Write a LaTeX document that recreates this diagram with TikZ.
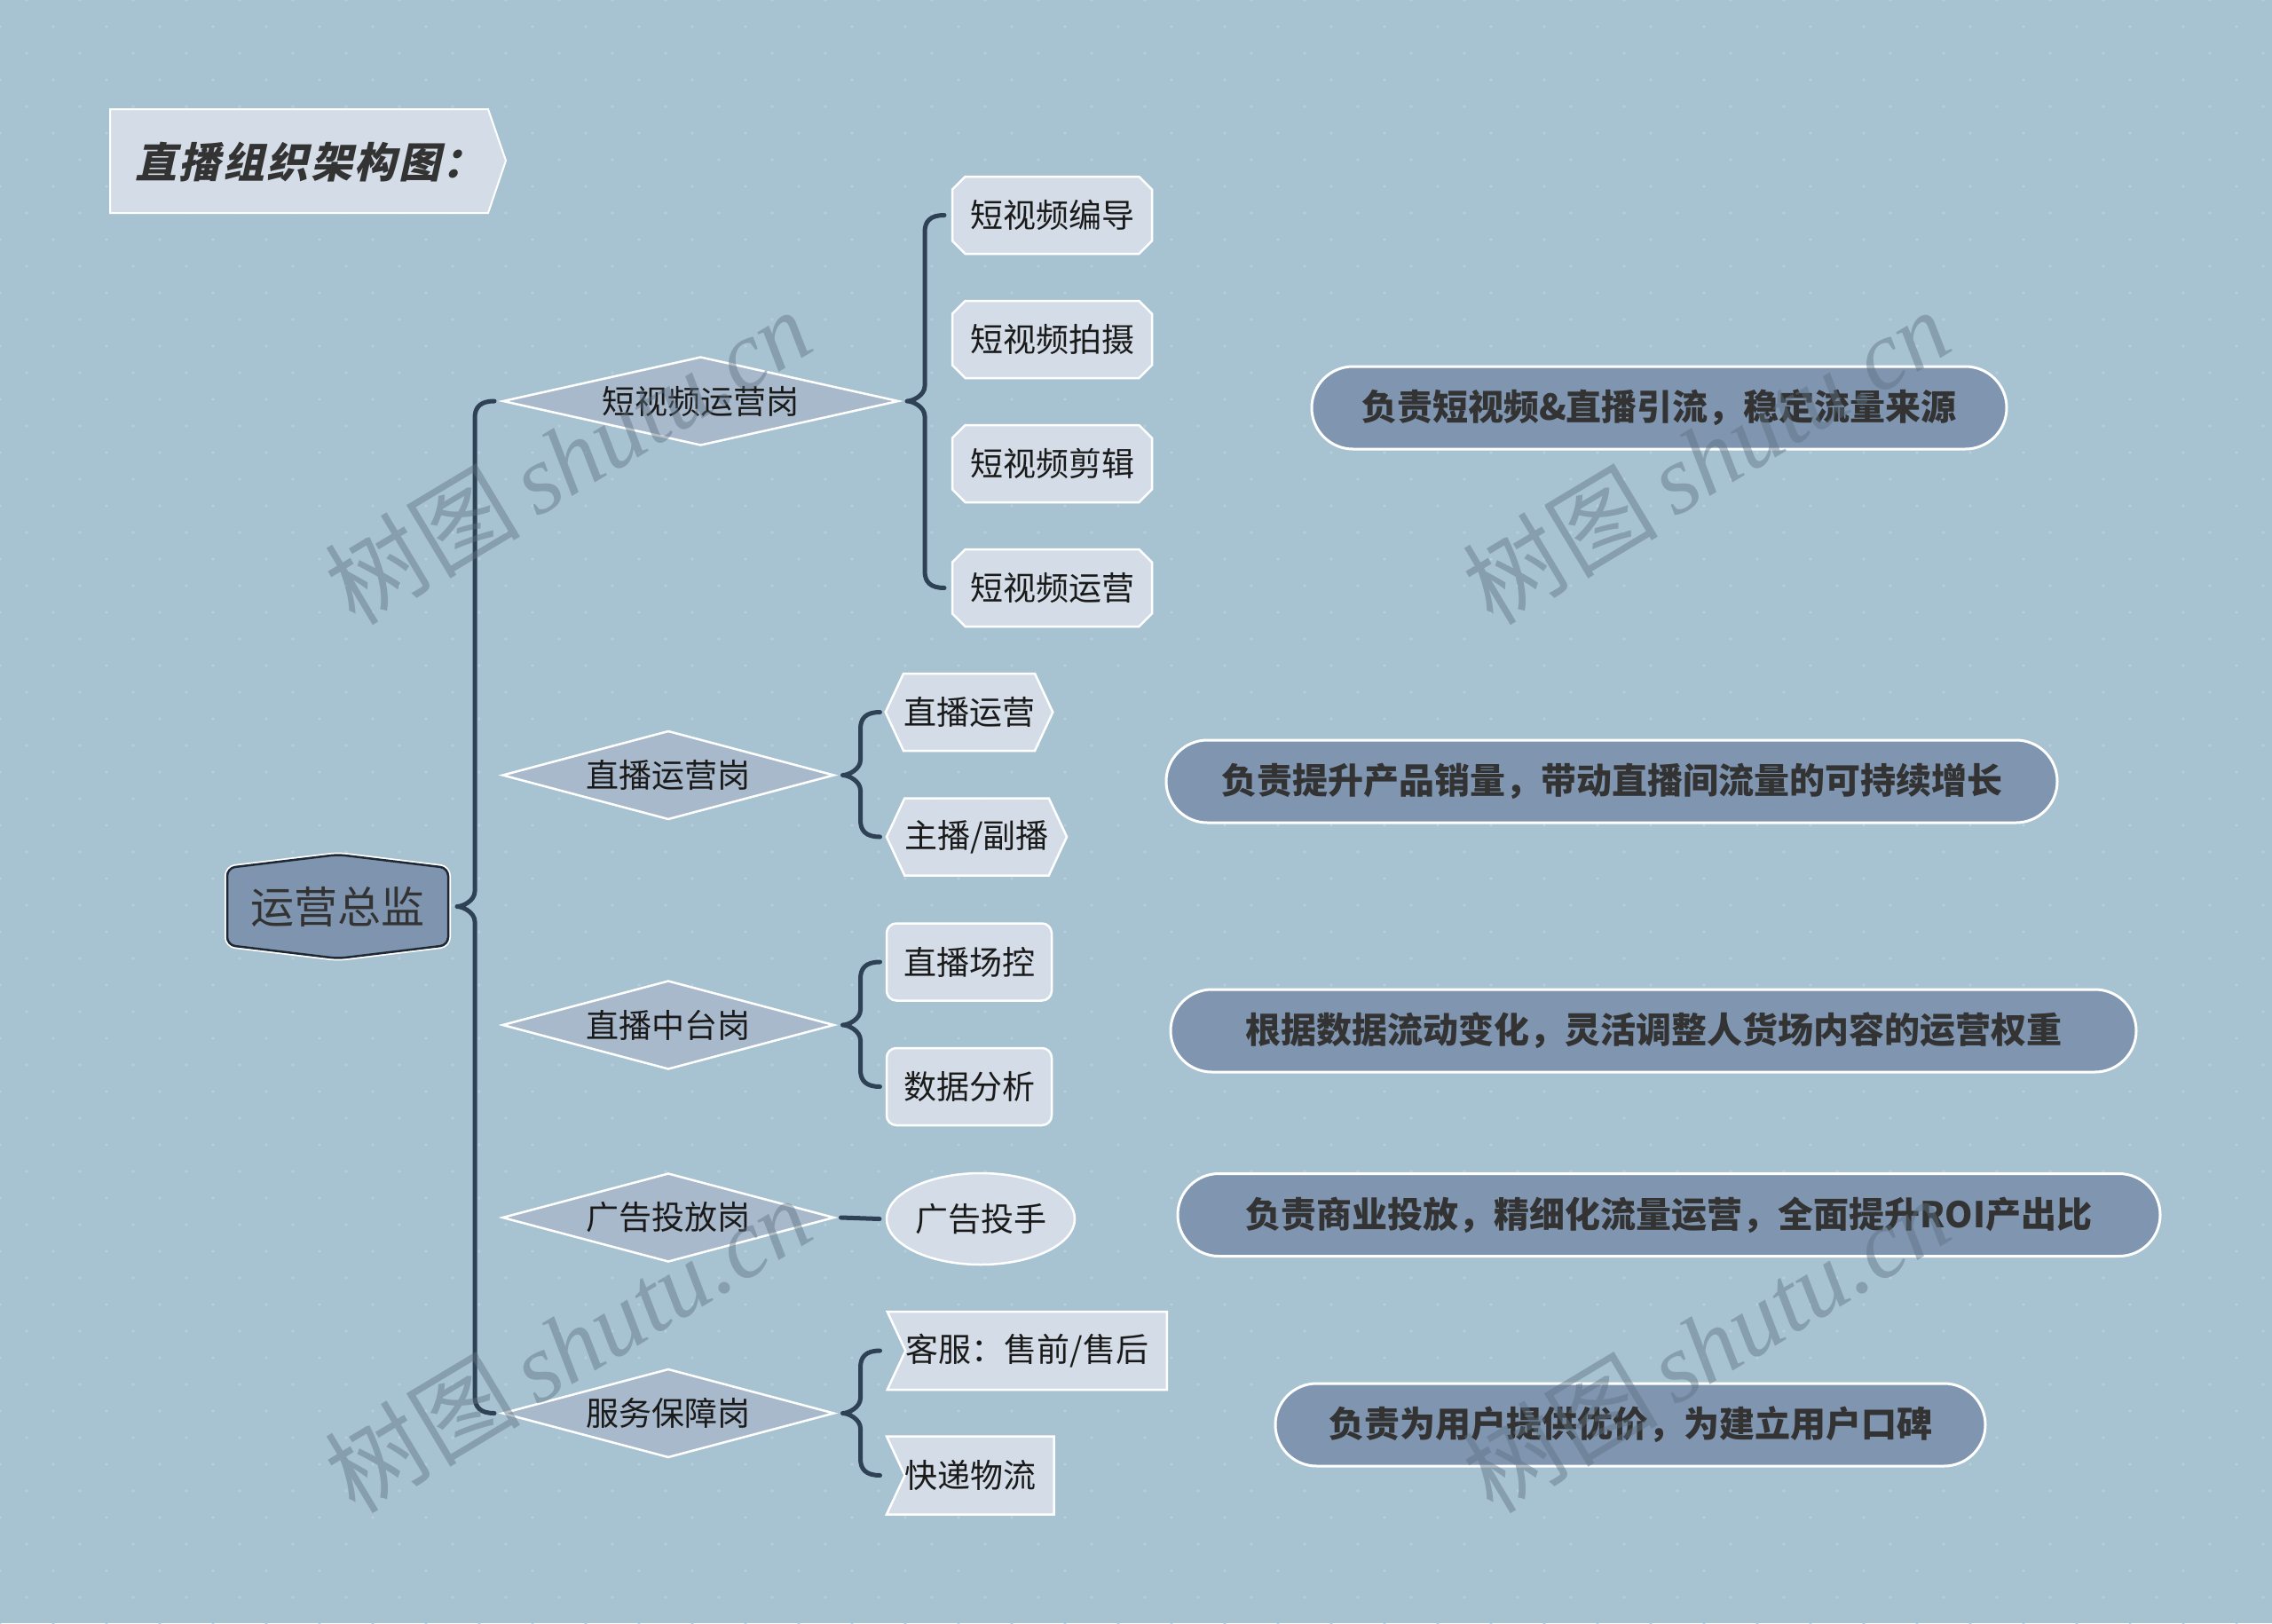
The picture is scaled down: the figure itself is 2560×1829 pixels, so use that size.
\documentclass[tikz,border=0pt]{standalone}
\usepackage{fontspec}
\setmainfont{Noto Sans CJK SC}
\newfontfamily\cjk{Noto Sans CJK SC}
\newfontfamily\titlefont[FakeSlant=0.22]{Noto Sans CJK SC}
\newfontfamily\wmlat{Liberation Serif}
\usetikzlibrary{shapes.geometric,shapes.misc,shapes.symbols,calc}
\definecolor{bgc}{HTML}{A7C3D1}
\definecolor{dotc}{HTML}{B6CEDA}
\definecolor{linec}{HTML}{2E4155}
\definecolor{rootc}{HTML}{7F95AF}
\definecolor{rootb}{HTML}{1E2935}
\definecolor{diac}{HTML}{A9B9CC}
\definecolor{boxc}{HTML}{D4DDE7}
\definecolor{pillc}{HTML}{7F95B0}
\definecolor{txtc}{HTML}{1A1A1A}
\definecolor{ptxt}{HTML}{333333}
\definecolor{wmc}{HTML}{5E7282}
\newcommand\mkbrace[4]{%
  \coordinate (T#1) at ($(#2.east)+(10,0)$);
  \coordinate (V#1) at ($(T#1)+(20,0)$);
  \coordinate (E#1) at ($(T#1)+(42,0)$);
  \draw[br] (E#1 |- #3) .. controls +(-16,0) and +(0,-12) .. ($(V#1 |- #3)+(0,19)$)
    -- ($(T#1)+(20,-17)$) .. controls +(0,10) and +(7,0) .. (T#1)
    .. controls +(7,0) and +(0,-10) .. ($(T#1)+(20,17)$)
    -- ($(V#1 |- #4)+(0,-19)$) .. controls +(0,12) and +(-16,0) .. (E#1 |- #4);
}
\begin{document}
\begin{tikzpicture}[x=1pt,y=-1pt,
  br/.style={draw=linec,line width=5pt,line cap=round,line join=round},
  lvone/.style={diamond,fill=diac,draw=white,line width=2.5pt,inner sep=0pt,outer sep=0pt,
     minimum width=373pt,minimum height=99pt,aspect=3.8,text=txtc,font=\fontsize{37}{44}\selectfont},
  lvtwo/.style={fill=boxc,draw=white,line width=2.5pt,inner sep=0pt,outer sep=0pt,
     minimum height=87pt,text=txtc,font=\fontsize{37}{44}\selectfont},
  cham/.style={lvtwo,chamfered rectangle,chamfered rectangle xsep=11pt,minimum width=225pt},
  hexa/.style={lvtwo,signal,signal to=east and west,signal pointer angle=130},
  rbox/.style={lvtwo,rectangle,rounded corners=11pt,minimum width=186pt},
  notch/.style={lvtwo,signal,signal from=west,signal to=nowhere,signal pointer angle=130},
  pill/.style={rounded rectangle,fill=pillc,draw=white,line width=3pt,inner sep=0pt,outer sep=0pt,
     minimum height=93pt,text=ptxt,font=\fontsize{40}{48}\selectfont\bfseries},
  wm/.style={text=wmc,opacity=0.45,font=\fontsize{110}{120}\selectfont,inner sep=0pt}
]
\fill[bgc] (0,0) rectangle (2560,1829);
\useasboundingbox (0,0) rectangle (2560,1829);
% dotted background
\foreach \j in {0,...,61}{%
  \pgfmathtruncatemacro\off{30*(1-mod(\j,2))}
  \fill[dotc] \foreach \i in {0,...,43}{(\i*60+\off,\j*30) circle[radius=1.8]};
}
% title banner
\path[fill=boxc,draw=white,line width=2pt] (124,123) -- (550,123) -- (570,181) -- (550,240) -- (124,240) -- cycle;
\node[anchor=west,inner sep=0pt,text=ptxt,font=\titlefont\fontsize{47}{56}\selectfont\bfseries] (title) at (152,183)
  {直\kern2.5pt 播\kern2.5pt 组\kern2.5pt 织\kern2.5pt 架\kern2.5pt 构\kern2.5pt 图\kern2.5pt ：};
% root
\path[draw=white,line width=6pt,rounded corners=9pt] (381,963) -- (505,978) -- (505,1065) -- (381,1080) -- (256,1065) -- (256,978) -- cycle;
\path[fill=rootc,draw=rootb,line width=2.5pt,rounded corners=9pt] (381,963) -- (505,978) -- (505,1065) -- (381,1080) -- (256,1065) -- (256,978) -- cycle;
\node[inner sep=0pt,outer sep=0pt,minimum width=249pt,minimum height=117pt,text=ptxt,font=\fontsize{49}{58}\selectfont] (root) at (380.5,1021.5) {运营总监};
% level one
\node[lvone,minimum width=445pt,aspect=4.5] (d1) at (789.5,452) {短视频运营岗};
\node[lvone] (d2) at (753,873.5) {直播运营岗};
\node[lvone] (d3) at (753,1155) {直播中台岗};
\node[lvone] (d4) at (753,1372) {广告投放岗};
\node[lvone] (d5) at (753,1592.5) {服务保障岗};
% level two
\node[cham] (c11) at (1185.5,242.5) {短视频编导};
\node[cham] (c12) at (1185.5,382.5) {短视频拍摄};
\node[cham] (c13) at (1185.5,522.5) {短视频剪辑};
\node[cham] (c14) at (1185.5,662.5) {短视频运营};
\node[hexa,minimum width=186pt] (c21) at (1092,802.5) {直播运营};
\node[hexa,minimum width=203pt] (c22) at (1100.5,943) {主播/副播};
\node[rbox] (c31) at (1092,1084) {直播场控};
\node[rbox] (c32) at (1092,1224.5) {数据分析};
\node[ellipse,fill=boxc,draw=white,line width=2.5pt,inner sep=0pt,outer sep=0pt,minimum width=212pt,minimum height=103pt,text=txtc,font=\fontsize{37}{44}\selectfont] (c41) at (1105,1373.5) {广告投手};
\node[notch,minimum width=315pt,minimum height=88pt] (c51) at (1167.5,1522) {客服：售前/售后\hspace*{20pt}};
\node[notch,minimum width=187pt,minimum height=88pt] (c52) at (1103.5,1662.5) {快递物流\hspace*{20pt}};
% braces
\mkbrace{0}{root}{d1}{d5}
\mkbrace{1}{d1}{c11}{c14}
\mkbrace{2}{d2}{c21}{c22}
\mkbrace{3}{d3}{c31}{c32}
\mkbrace{5}{d5}{c51}{c52}
\draw[br] ($(d4.east)+(8,0)$) -- ($(c41.west)+(-8,0)$);
% descriptions
\node[pill,minimum width=783pt] (p1) at (1869.5,459.5) {负责短视频\&直播引流，稳定流量来源};
\node[pill,minimum width=1004pt] (p2) at (1816,880.5) {负责提升产品销量，带动直播间流量的可持续增长};
\node[pill,minimum width=1088pt] (p3) at (1863,1161.5) {根据数据流动变化，灵活调整人货场内容的运营权重};
\node[pill,minimum width=1107pt] (p4) at (1880.5,1369) {负责商业投放，精细化流量运营，全面提升ROI产出比};
\node[pill,minimum width=800pt] (p5) at (1837,1605.5) {负责为用户提供优价，为建立用户口碑};
% watermarks
\node[wm,rotate=31] (wm1) at (640,514) {树图\,{\wmlat\itshape shutu.cn}};
\node[wm,rotate=31] (wm2) at (1922,514) {树图\,{\wmlat\itshape shutu.cn}};
\node[wm,rotate=31] (wm3) at (640,1515) {树图\,{\wmlat\itshape shutu.cn}};
\node[wm,rotate=31] (wm4) at (1922,1515) {树图\,{\wmlat\itshape shutu.cn}};
\end{tikzpicture}
\end{document}
